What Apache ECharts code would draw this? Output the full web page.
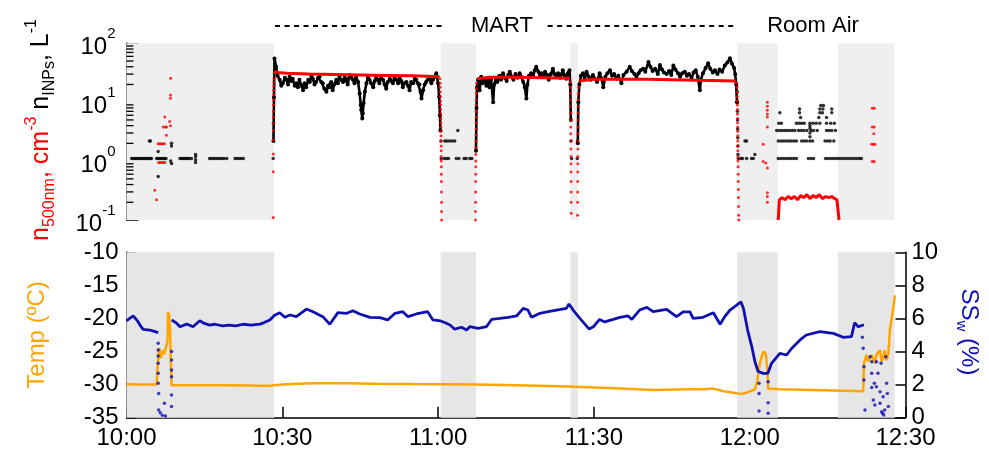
<!DOCTYPE html>
<html><head><meta charset="utf-8">
<script src="https://cdn.jsdelivr.net/npm/echarts@6/dist/echarts.min.js"></script>
<style>html,body{margin:0;padding:0;background:#fff}#c{width:989px;height:453px}</style>
</head><body><div id="c"></div>
<script>
// time axis: minutes after 10:00
const xTickLabels = ['10:00','10:30','11:00','11:30','12:00','12:30'];
const shadedPeriods = [[0,28.4],[60.5,67.3],[85.5,86.9],[117.6,125.4],[137.0,147.9]];
const logMinorTicks = [0.2,0.3,0.4,0.5,0.6,0.7,0.8,0.9,2,3,4,5,6,7,8,9,20,30,40,50,60,70,80,90];
const annotationSpans = {martDash1:[28.6,61.3], martText:72.3, martDash2:[81.1,117.2], roomText:132.2};

// n_INPs, L^-1 (black), continuous MART segments
const inpSeg1 = [[28.3,2.2],[28.4,12],[28.5,55],[28.8,40],[29.1,28],[29.5,24],[29.8,19],[30.1,21],[30.5,26],[30.8,24],[31.1,20],[31.4,27],[31.7,23],[32.0,25],[32.4,19],[32.7,21],[33.0,18],[33.3,24],[33.7,19],[34.0,16],[34.3,21],[34.6,18],[35.0,24],[35.3,22],[35.6,28],[35.9,25],[36.2,20],[36.5,22],[36.9,26],[37.2,27],[37.5,22],[37.8,21],[38.1,17],[38.5,15],[38.8,19],[39.1,18],[39.4,22],[39.7,16],[40.0,20],[40.4,24],[40.7,21],[41.0,27],[41.3,24],[41.7,22],[42.0,26],[42.3,25],[42.6,20],[42.95,29],[43.3,26],[43.6,24],[43.9,21],[44.2,27],[44.6,22],[44.9,14],[45.1,9],[45.2,7.4],[45.4,5.3],[45.5,6.5],[45.65,9.6],[45.9,15],[46.2,21],[46.5,26],[46.8,24],[47.1,21],[47.5,18],[47.8,23],[48.1,27],[48.4,24],[48.7,21],[49.0,26],[49.4,24],[49.7,20],[50.0,17],[50.3,22],[50.7,25],[51.0,23],[51.3,21],[51.6,26],[51.95,24],[52.3,21],[52.6,27],[52.9,23],[53.2,18],[53.5,21],[53.9,22],[54.2,19],[54.5,16],[54.8,22],[55.2,21],[55.5,25],[55.8,24],[56.1,21],[56.4,20],[56.6,15],[56.8,11.6],[57.1,16],[57.4,20],[57.7,22],[58.0,24],[58.4,25],[58.7,21],[59.0,24],[59.3,27],[59.65,31],[60.0,21],[60.2,12.4],[60.35,6],[60.45,3.3]];
const inpSeg2 = [[67.3,1.5],[67.4,8],[67.5,18],[67.7,24],[68.0,16],[68.3,27],[68.6,21],[68.9,25],[69.3,19],[69.6,26],[69.9,18],[70.2,24],[70.6,10],[70.8,20],[71.1,25],[71.4,22],[71.8,28],[72.1,24],[72.5,31],[72.8,26],[73.2,23],[73.5,29],[73.8,33],[74.2,27],[74.5,24],[74.9,30],[75.3,26],[75.7,31],[76.0,27],[76.4,22],[76.7,18],[77.0,11.6],[77.2,20],[77.5,28],[77.9,31],[78.3,27],[78.6,35],[78.9,40],[79.3,33],[79.6,29],[79.9,31],[80.3,27],[80.6,33],[81.0,29],[81.3,24],[81.7,30],[82.1,37],[82.4,30],[82.8,27],[83.1,31],[83.5,26],[83.8,30],[84.0,35],[84.4,28],[84.7,25],[85.0,31],[85.3,35],[85.45,20],[85.55,5]];
const inpSeg3 = [[86.9,2],[87.0,10],[87.2,20],[87.5,28],[87.9,31],[88.2,25],[88.6,33],[89.0,27],[89.4,24],[89.8,29],[90.2,25],[90.6,22],[91.1,31],[91.5,25],[91.8,18],[92.2,27],[92.6,31],[93.1,35],[93.5,28],[93.9,30],[94.3,25],[94.7,28],[95.3,21],[95.7,29],[96.3,33],[96.9,40],[97.3,34],[97.8,30],[98.2,27],[98.6,31],[99.0,35],[99.5,37],[99.9,33],[100.5,48],[100.9,40],[101.3,34],[101.8,37],[102.3,30],[102.7,43],[103.1,36],[103.5,32],[104.0,30],[104.5,34],[104.9,29],[105.3,42],[105.7,36],[106.2,31],[106.6,27],[107.0,31],[107.5,33],[107.9,28],[108.3,30],[108.8,26],[109.2,32],[109.6,35],[110.0,27],[110.4,16],[110.6,24],[111.0,31],[111.5,38],[112.0,46],[112.4,37],[112.9,32],[113.3,35],[113.8,30],[114.2,36],[114.7,33],[115.2,42],[115.7,47],[116.2,56],[116.6,45],[117.0,38],[117.2,30],[117.4,20],[117.55,10]];
// n_INPs isolated counts (black dots)
const inpDots = [[1.0,1.11],[1.3,1.11],[1.6,1.11],[1.9,1.11],[2.2,1.11],[2.5,1.11],[2.8,1.11],[3.1,1.11],[3.4,1.11],[3.7,1.11],[4.0,1.11],[4.3,1.11],[4.6,1.11],[4.8,1.11],[4.4,2.2],[4.6,2.2],
[5.8,1.11],[6.1,1.11],[6.4,1.11],[6.7,1.11],[7.0,1.11],[7.3,1.11],[7.6,1.11],[6.1,1.45],[6.1,0.55],[8.67,2.0],[8.67,1.8],[8.5,1.0],[8.67,0.91],
[10.3,1.11],[10.6,1.11],[10.9,1.11],[11.2,1.11],[11.5,1.11],[11.8,1.11],[12.1,1.11],[12.5,1.11],[13.3,1.3],[13.3,1.2],[13.3,1.05],[13.3,0.95],
[16.0,1.11],[16.4,1.11],[16.8,1.11],[17.2,1.11],[17.6,1.11],[18.0,1.11],[18.4,1.11],[18.8,1.11],[19.3,1.11],[20.9,1.11],[21.3,1.11],[21.7,1.11],[22.1,1.11],[22.5,1.11],
[28.25,1.11],[28.3,4.4],
[60.55,2.2],[60.6,1.11],[61.3,2.2],[61.7,2.2],[62.2,2.2],[62.7,2.2],[63.2,2.2],[63.8,3.3],[61.2,1.11],[61.6,1.11],[62.0,1.11],[63.5,1.11],[64.0,1.11],[65.0,1.11],[65.4,1.11],[66.1,1.11],[66.5,1.11],
[85.6,2.2],[85.7,1.11],[86.8,1.11],[86.85,2.2],
[117.6,15],[117.62,10],[117.64,7],[117.66,5],[117.68,3.5],[117.7,2.5],[117.72,1.8],[117.74,1.3],[117.8,1.11],[118.3,1.11],[118.6,1.11],[119.1,2.2],[119.4,2.2],[119.4,1.11],[120.35,1.11],[120.7,1.11],[121.0,1.3],
[125.5,1.11],[126.0,1.11],[126.5,1.11],[127.0,1.11],[127.5,1.11],[128.0,1.11],[128.5,1.11],[129.0,1.11],[131.3,1.11],[131.8,1.11],[132.3,1.11],[134.6,1.11],[135.1,1.11],[135.6,1.11],[136.1,1.11],[136.6,1.11],[137.1,1.11],[137.6,1.11],[138.1,1.11],[138.6,1.11],[139.1,1.11],[139.6,1.11],[140.1,1.11],[140.6,1.11],[141.1,1.11],[141.5,1.11],
[125.5,2.2],[126.0,2.2],[126.5,2.2],[127.0,2.2],[127.5,2.2],[128.0,2.2],[128.5,2.2],[129.0,2.2],[130.0,2.2],[130.5,2.2],[131.0,2.2],[131.6,2.2],[132.1,2.2],[134.5,2.2],[135.0,2.2],[135.5,2.2],[136.2,2.2],
[125.2,3.3],[125.7,3.3],[126.2,3.3],[126.7,3.3],[127.2,3.3],[127.7,3.3],[128.2,3.3],[128.7,3.3],[129.4,3.3],[129.9,3.3],[130.4,3.3],[131.0,3.3],[131.8,3.3],[132.3,3.3],[133.0,3.3],[134.8,3.3],[135.3,3.3],[135.8,3.3],[136.5,3.3],
[125.6,4.4],[126.1,4.4],[129.0,4.4],[129.5,4.4],[130.0,4.4],[130.5,4.4],[131.6,4.4],[132.2,4.4],[132.8,4.4],[133.5,4.4],[134.8,4.4],[135.6,4.4],[136.3,4.4],
[129.8,5.5],[133.3,5.5],[134.8,5.5],[125.8,6.6],[129.6,6.6],[133.5,6.6],[134.0,6.6],[135.8,6.6],[129.6,7.7],[133.5,7.7],[134.1,7.7],[135.8,7.7],[133.7,8.8],[134.2,8.8],
[131.6,2.6],[131.6,3.0],[131.6,3.6],[131.6,4.0]];

// n_500nm, cm^-3 (red)
const redSeg1 = [[28.45,30],[28.6,33],[29.5,31.5],[31,31],[35,30],[40,29.5],[45,29],[50,28.5],[55,28],[58,27.5],[60.3,27]];
const redSeg2 = [[67.5,25],[67.7,26.5],[70,26.5],[75,26.5],[80,26],[85.4,25.5]];
const redSeg3 = [[87.15,23],[87.3,24.5],[90,24.5],[95,24.5],[100,24.5],[105,24],[110,23.5],[115,23.2],[117.4,23]];
const redRoom = [[125.5,0.1],[125.7,0.22],[126.2,0.24],[126.8,0.22],[127.4,0.25],[128.0,0.23],[128.6,0.25],[129.2,0.22],[129.8,0.26],[130.4,0.24],[131.0,0.27],[131.6,0.23],[132.2,0.26],[132.8,0.24],[133.4,0.27],[134.0,0.23],[134.6,0.25],[135.2,0.24],[135.8,0.25],[136.4,0.23],[136.8,0.22],[137.2,0.1]];
const redDots = [[5.45,0.32],[5.8,0.22],[6.1,1.97],[6.4,1.97],[6.7,1.97],[7.0,1.97],[7.3,1.97],[6.2,0.95],[6.5,0.95],[6.8,0.95],[7.1,0.95],[7.4,0.95],[7.06,3.8],[7.38,5.6],[7.5,3.8],[7.7,3.8],[7.7,2.75],[8.3,4.7],[8.47,4.0],[8.47,11.7],[8.47,13.2],[8.5,25.6],
[28.25,0.11],[28.25,0.66],[28.27,1.32],[28.27,2.28],[28.29,3.3],[28.29,4.4],[28.31,5.6],[28.31,7],[28.33,9],[28.33,11],[28.35,13.5],[28.35,16],[28.37,19],[28.37,22],[28.4,25],
[60.35,25],[60.38,21],[60.4,18],[60.42,15],[60.44,12.5],[60.46,10.5],[60.48,9],[60.5,7.5],[60.5,6.3],[60.52,5.3],[60.52,4.5],[60.54,3.8],[60.54,3.2],[60.56,2.7],[60.56,2.2],[60.58,1.8],[60.58,1.5],[60.6,1.2],[60.6,1.0],[60.62,0.8],[60.62,0.6],[60.64,0.45],[60.64,0.3],[60.66,0.2],[60.66,0.14],[60.68,0.1],
[67.2,0.1],[67.2,0.14],[67.22,0.2],[67.22,0.3],[67.24,0.45],[67.24,0.6],[67.26,0.8],[67.26,1.0],[67.28,1.3],[67.28,1.7],[67.3,2.2],[67.3,2.8],[67.32,3.5],[67.32,4.5],[67.34,5.6],[67.34,7],[67.36,9],[67.36,11],[67.38,14],[67.4,17],[67.42,21],
[85.45,22],[85.47,18],[85.48,14],[85.5,11],[85.5,8.5],[85.52,6.5],[85.52,5],[85.54,3.8],[85.54,2.9],[85.56,2.2],[85.56,1.6],[85.58,1.2],[85.58,0.9],[85.6,0.65],[85.6,0.45],[85.62,0.3],[85.62,0.2],[85.64,0.13],
[86.85,0.12],[86.87,0.2],[86.87,0.3],[86.89,0.45],[86.89,0.65],[86.91,0.9],[86.91,1.2],[86.93,1.6],[86.93,2.2],[86.95,2.9],[86.95,3.8],[86.97,5],[86.97,6.5],[86.99,8.5],[87.0,11],[87.02,14],[87.05,18],
[117.5,21],[117.55,18],[117.6,15],[117.6,12.5],[117.62,10.5],[117.62,9],[117.64,7.5],[117.64,6.3],[117.66,5.3],[117.66,4.5],[117.68,3.8],[117.68,3.2],[117.7,2.7],[117.7,2.2],[117.72,1.8],[117.72,1.5],[117.74,1.2],[117.74,1.0],[117.76,0.8],[117.78,0.6],[117.8,0.45],[117.82,0.33],[117.84,0.24],[117.86,0.17],[117.88,0.12],[117.9,0.1],
[123.4,10],[123.4,8.5],[123.4,7.3],[123.4,6.3],[123.4,5.6],[123.4,3.8],[122.6,1.93],[122.6,0.98],[123.1,0.93],[123.4,0.76],[123.4,0.29],[123.4,0.25],[123.4,0.2],
[143.6,7.9],[144.0,7.9],[143.6,3.8],[144.0,3.8],[143.9,2.9],[143.5,1.93],[143.8,1.93],[144.1,1.93],[143.6,0.98],[144.0,0.98]];

// Temperature, deg C (orange)
const tempLine = [[0,-29.9],[2,-30],[4,-30],[5.8,-30],[6.0,-27],[6.3,-24.5],[6.6,-26],[7.0,-24.8],[7.3,-25.4],[7.6,-24.3],[7.9,-23.5],[8.0,-19],[8.2,-19.5],[8.4,-22],[8.55,-27],[8.7,-30.1],[12,-30.1],[18,-30.1],[24,-30.15],[27.6,-30.16],[30,-30.0],[33,-29.85],[36,-29.8],[42,-29.8],[48,-29.85],[55,-29.9],[62.3,-29.95],[67,-30],[75,-30.1],[85.2,-30.3],[95,-30.6],[101.4,-30.8],[108,-30.7],[111,-30.7],[113,-30.6],[115,-31.0],[117.5,-31.3],[118.5,-31.4],[119.5,-31.2],[121.0,-30.7],[121.4,-29.6],[121.95,-26.8],[122.6,-25.0],[123.1,-25.3],[123.4,-27.8],[123.55,-30.6],[125.8,-30.7],[132.2,-30.8],[141.85,-31.0],[142.0,-26.8],[142.5,-25.5],[142.8,-26.5],[143.5,-25.5],[144.1,-26.8],[144.4,-25.5],[145.1,-24.8],[145.4,-26.5],[145.7,-26.0],[146.0,-24.8],[146.35,-26.3],[146.7,-25.3],[147.0,-21.7],[147.3,-20.2],[147.6,-18.7],[147.95,-16.5]];
// SS_w, % (blue)
const ssSeg1 = [[0,5.86],[0.6,6.0],[1.3,6.15],[2.0,5.9],[2.6,5.6],[3.2,5.34],[4.5,5.3],[5.5,5.2],[6.1,5.14]];
const ssSeg2 = [[8.7,5.91],[9.5,5.75],[10.3,5.5],[11.6,5.66],[12.8,5.5],[14.1,5.86],[15.0,5.7],[16,5.6],[17,5.65],[18.5,5.55],[19.8,5.6],[21,5.55],[22.5,5.65],[24,5.6],[25.7,5.66],[26.5,5.75],[27.6,5.91],[28.5,6.2],[29.5,6.35],[30.5,6.07],[31.45,6.21],[32.7,6.11],[34.66,6.57],[35.9,6.41],[37.8,6.11],[39.15,5.65],[40.7,6.35],[42.4,6.31],[43.6,6.47],[44.9,6.27],[46.9,6.07],[48.8,6.05],[50.3,5.91],[51.7,6.31],[53.2,6.41],[54.2,6.11],[55.8,6.27],[58.0,6.41],[59.0,5.91],[60.5,5.85],[61.6,5.71],[62.3,5.6],[63.2,5.35],[64.5,5.47],[65.5,5.30],[66.1,5.50],[67.7,5.40],[69.3,5.50],[70.3,5.94],[71.9,6.00],[73.5,6.07],[75.1,6.15],[76.4,6.61],[77.3,6.51],[78.0,6.07],[79.6,6.31],[81.2,6.41],[82.8,6.51],[84.7,6.61],[85.2,6.87],[86.0,6.51],[87.3,6.01],[89.1,5.36],[89.9,5.50],[91.1,5.94],[92.1,5.79],[93.7,5.94],[95.0,6.07],[96.6,6.15],[97.3,5.94],[98.8,6.51],[100.2,6.67],[101.4,6.41],[104.0,6.55],[105.9,6.11],[107.2,6.4],[108.5,6.4],[109.1,6.0],[111.0,6.07],[113.0,6.35],[114.3,5.65],[115.2,6.11],[116.2,6.51],[117.5,6.81],[118.3,7.01],[118.8,6.6],[119.6,5.3],[120.4,4.3],[121.0,3.4],[121.6,2.8],[122.6,2.68],[123.5,2.68],[124.2,3.29],[125.8,3.89],[127.1,3.79],[128.1,4.20],[129.7,4.70],[130.9,5.00],[133.5,5.20],[136.1,5.10],[138.0,4.86],[139.6,4.90],[140.2,5.74],[140.9,5.50],[142.0,5.62]];
const ssDots = [[6.1,4.5],[6.1,4.1],[6.1,3.73],[6.1,3.29],[6.1,2.68],[6.1,2.08],[6.2,1.47],[6.2,0.47],[6.5,0.3],[6.9,0.15],[7.3,0.87],[7.5,0.1],[8.67,4.0],[8.67,3.49],[8.67,2.88],[8.67,2.48],[8.67,1.37],[8.67,0.67],
[121.8,2.08],[121.8,1.47],[121.8,0.4],[123.55,2.18],[123.55,0.91],[123.55,0.27],
[141.7,4.86],[141.85,4.2],[142.0,3.08],[142.0,2.28],[142.2,0.47],[143.2,3.69],[143.5,3.39],[143.5,2.68],[143.5,1.83],[143.8,1.07],[144.0,2.08],[144.1,0.77],[144.4,3.39],[144.4,1.87],[144.7,2.68],[145.1,1.57],[145.1,0.87],[145.3,3.29],[145.4,0.36],[145.6,0.27],[145.7,1.27],[145.8,0.17],[146.0,0.47],[146.2,3.69],[146.35,2.08],[146.5,1.47],[146.7,0.67]];

const FONT = '"Liberation Sans", Arial, Helvetica, sans-serif';
const GAP = (t) => [t, '-'];
const inpLine = [...inpSeg1, GAP(63), ...inpSeg2, GAP(86.2), ...inpSeg3];
const redLine = [...redSeg1, GAP(63), ...redSeg2, GAP(86.2), ...redSeg3, GAP(121), ...redRoom];
const ssLine = [...ssSeg1, GAP(7.5), ...ssSeg2];

const chart = echarts.init(document.getElementById('c'));
const axisLine = {show:true, lineStyle:{color:'#000', width:1.5}};
const labelBase = {color:'#000', fontSize:24, fontFamily:FONT};

chart.setOption({
  animation:false,
  backgroundColor:'#fff',
  grid:[
    {left:126.5, right:83.5, top:43.3, height:176.7},
    {left:126.5, right:83.5, top:252.3, height:165.4}
  ],
  xAxis:[
    {gridIndex:0, type:'value', min:0, max:150, show:false},
    {gridIndex:1, type:'value', min:0, max:150, interval:30,
     axisLine:axisLine, splitLine:{show:false},
     axisTick:{show:true, inside:true, length:11, lineStyle:{color:'#000', width:1.5}},
     axisLabel:Object.assign({}, labelBase, {margin:9, showMinLabel:true, showMaxLabel:true,
       formatter:(v)=>xTickLabels[Math.round(v/30)]})}
  ],
  yAxis:[
    {gridIndex:0, type:'log', logBase:10, min:0.1, max:100,
     axisLine:axisLine, splitLine:{show:false},
     axisTick:{show:true, inside:true, length:12, lineStyle:{color:'#000', width:1.5}},
     axisLabel:{margin:11, formatter:(v)=>'{b|10}{s|'+Math.round(Math.log10(v))+'}',
       rich:{b:{fontSize:24, fontFamily:FONT, color:'#000', padding:[8,0,0,0], verticalAlign:'middle'},
             s:{fontSize:15, fontFamily:FONT, color:'#000', padding:[0,0,18,0], verticalAlign:'middle'}}}},
    {gridIndex:1, type:'value', min:-35, max:-10, interval:5,
     axisLine:axisLine, splitLine:{show:false},
     axisTick:{show:true, inside:true, length:10, lineStyle:{color:'#000', width:1.5}},
     axisLabel:Object.assign({}, labelBase, {margin:8})},
    {gridIndex:1, type:'value', min:0, max:10, interval:2, position:'right',
     axisLine:axisLine, splitLine:{show:false},
     axisTick:{show:true, inside:true, length:10, lineStyle:{color:'#000', width:1.5}},
     axisLabel:Object.assign({}, labelBase, {margin:6})}
  ],
  series:[
    {type:'line', xAxisIndex:0, yAxisIndex:0, data:[], z:1, silent:true,
     markArea:{silent:true, itemStyle:{color:'#efefef'}, data:shadedPeriods.map(p=>[{xAxis:p[0]},{xAxis:p[1]}])}},
    {type:'custom', xAxisIndex:0, yAxisIndex:0, z:5, silent:true, clip:false,
     data:logMinorTicks.map(v=>[0,v]), encode:{x:0,y:1},
     renderItem:(params, api)=>{const p = api.coord([0, api.value(1)]);
       return {type:'line', shape:{x1:p[0], y1:p[1], x2:p[0]+7, y2:p[1]}, style:{stroke:'#000', lineWidth:1.3}};}},
    {type:'line', xAxisIndex:0, yAxisIndex:0, data:inpLine, showSymbol:true, symbol:'circle', symbolSize:4, z:3,
     itemStyle:{color:'#000'}, lineStyle:{color:'#000', width:2.6}},
    {type:'scatter', xAxisIndex:0, yAxisIndex:0, data:inpDots, symbolSize:3.5, z:3,
     itemStyle:{color:'#000'}},
    {type:'line', xAxisIndex:0, yAxisIndex:0, data:redLine, showSymbol:false, z:4,
     lineStyle:{color:'#ff0000', width:3}},
    {type:'scatter', xAxisIndex:0, yAxisIndex:0, data:redDots, symbolSize:3, z:4,
     itemStyle:{color:'#ff0000'}},
    {type:'line', xAxisIndex:1, yAxisIndex:1, data:[], z:1, silent:true,
     markArea:{silent:true, itemStyle:{color:'#e6e6e6'}, data:shadedPeriods.map(p=>[{xAxis:p[0]},{xAxis:p[1]}])}},
    {type:'line', xAxisIndex:1, yAxisIndex:1, data:tempLine, showSymbol:false, z:3,
     lineStyle:{color:'#ffa500', width:2.5}},
    {type:'line', xAxisIndex:1, yAxisIndex:2, data:ssLine, showSymbol:false, z:4,
     lineStyle:{color:'#1010b0', width:2.8}},
    {type:'scatter', xAxisIndex:1, yAxisIndex:2, data:ssDots, symbolSize:3.5, z:4,
     itemStyle:{color:'#1010b0'}}
  ]
});

const px = t => chart.convertToPixel({xAxisIndex:0}, t);
const yAnn = 26;
const dash = {stroke:'#000', lineWidth:2, lineDash:[5,4.5]};
chart.setOption({graphic:[
  {type:'line', shape:{x1:px(annotationSpans.martDash1[0]), y1:yAnn, x2:px(annotationSpans.martDash1[1]), y2:yAnn}, style:dash},
  {type:'line', shape:{x1:px(annotationSpans.martDash2[0]), y1:yAnn, x2:px(annotationSpans.martDash2[1]), y2:yAnn}, style:dash},
  {type:'text', x:px(annotationSpans.martText), y:yAnn, style:{text:'MART', fontSize:22, fontFamily:FONT, fill:'#000', align:'center', verticalAlign:'middle'}},
  {type:'text', x:px(annotationSpans.roomText), y:yAnn, style:{text:'Room Air', fontSize:22, fontFamily:FONT, fill:'#000', align:'center', verticalAlign:'middle'}},
  {type:'text', x:41, y:130, rotation:Math.PI/2, style:{
    text:'{r|n}{rsub|500nm}{r|, cm}{rsup|-3}{r| }{k|n}{ksub|INPs}{k|, L}{ksup|-1}',
    align:'center', verticalAlign:'middle', fontFamily:FONT,
    rich:{
      r:{fill:'#ff0000', fontSize:25, fontFamily:FONT, verticalAlign:'middle'},
      rsub:{fill:'#ff0000', fontSize:16, fontFamily:FONT, padding:[18,0,0,0], verticalAlign:'middle'},
      rsup:{fill:'#ff0000', fontSize:16, fontFamily:FONT, padding:[0,0,18,0], verticalAlign:'middle'},
      k:{fill:'#000', fontSize:25, fontFamily:FONT, verticalAlign:'middle'},
      ksub:{fill:'#000', fontSize:16, fontFamily:FONT, padding:[18,0,0,0], verticalAlign:'middle'},
      ksup:{fill:'#000', fontSize:16, fontFamily:FONT, padding:[0,0,18,0], verticalAlign:'middle'}
    }}},
  {type:'text', x:37, y:335, rotation:Math.PI/2, style:{text:'Temp (\u00baC)', fontSize:24, fontFamily:FONT, fill:'#ffa500', align:'center', verticalAlign:'middle'}},
  {type:'text', x:969, y:332, rotation:-Math.PI/2, style:{
    text:'{m|SS}{sub|w}{m| (%)}', align:'center', verticalAlign:'middle', fontFamily:FONT,
    rich:{
      m:{fill:'#1010b0', fontSize:24, fontFamily:FONT, verticalAlign:'middle'},
      sub:{fill:'#1010b0', fontSize:15, fontFamily:FONT, padding:[16,0,0,0], verticalAlign:'middle'}
    }}}
]});
</script>
</body></html>
